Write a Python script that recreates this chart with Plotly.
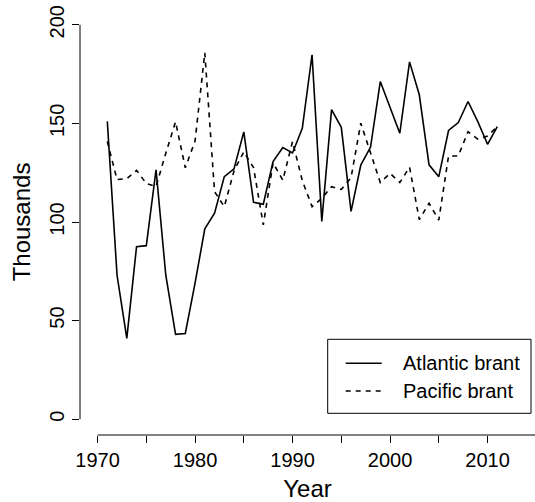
import plotly.graph_objects as go

years = list(range(1971, 2012))
atlantic = [151, 73, 41, 87.5, 88, 126.5, 73, 43, 43.5, 69, 96.5, 104.5, 123, 127, 145.7,
            110, 109, 130.6, 137.7, 135, 147.5, 184.8, 100.3, 157, 148,
            105.4, 128.9, 138, 171.2, 158, 145, 181.2, 164.5, 129, 123,
            146.4, 150.4, 161.1, 150.9, 139.4, 148.4]
pacific = [140.8, 121.5, 122, 126.2, 119.5, 118, 134.9, 150.8, 127.5, 141, 185.8, 115.4, 107.8, 126, 135.6,
           127.6, 98.5, 130, 121.2, 140.8, 121, 107.8, 112, 117.9, 116.5,
           122.5, 150.1, 135, 120, 124.7, 120, 127.8, 101.2, 109.5, 101,
           133.5, 133.5, 145.8, 142, 143.6, 148.4]
series_names = ["Atlantic brant", "Pacific brant"]
x_ticks = [1970, 1975, 1980, 1985, 1990, 1995, 2000, 2005, 2010]
x_ticktext = ["1970", "", "1980", "", "1990", "", "2000", "", "2010"]
y_ticks = [0, 50, 100, 150, 200]

W, H = 535, 502
ML, MR, MT, MB = 80, 0, 9, 67
PW = W - ML - MR
PH = H - MT - MB
FONT = "Liberation Sans, Arial, Helvetica, sans-serif"


def X(p):
    return (p - ML) / PW


def Y(p):
    return (H - MB - p) / PH


fig = go.Figure()
fig.add_trace(go.Scatter(x=years, y=atlantic, mode="lines", name=series_names[0],
                         line=dict(color="black", width=1.6)))
fig.add_trace(go.Scatter(x=years, y=pacific, mode="lines", name=series_names[1],
                         line=dict(color="black", width=1.6, dash="5px,5px")))

shapes = [
    # x axis line
    dict(type="line", xref="x", yref="paper", x0=1970, x1=2015, y0=0, y1=0,
         line=dict(color="black", width=1)),
    # y axis line
    dict(type="line", xref="paper", yref="y", x0=0, x1=0, y0=0, y1=200,
         line=dict(color="black", width=1)),
    # legend box
    dict(type="rect", xref="paper", yref="paper", x0=X(327.7), x1=X(531), y0=Y(413.3), y1=Y(339.3),
         line=dict(color="black", width=1), fillcolor="rgba(0,0,0,0)"),
    dict(type="line", xref="paper", yref="paper", x0=X(345.7), x1=X(381.7), y0=Y(363.3), y1=Y(363.3),
         line=dict(color="black", width=1.6)),
    dict(type="line", xref="paper", yref="paper", x0=X(345.7), x1=X(381.7), y0=Y(391), y1=Y(391),
         line=dict(color="black", width=1.6, dash="5px,5px")),
]

annotations = [
    dict(text=series_names[0], xref="paper", yref="paper", x=X(401), y=Y(363.3),
         xanchor="left", yanchor="middle", showarrow=False, font=dict(size=20, color="black", family=FONT)),
    dict(text=series_names[1], xref="paper", yref="paper", x=X(401), y=Y(391),
         xanchor="left", yanchor="middle", showarrow=False, font=dict(size=20, color="black", family=FONT)),
]

fig.update_layout(
    width=W, height=H,
    margin=dict(l=ML, r=MR, t=MT, b=MB, pad=0),
    paper_bgcolor="white", plot_bgcolor="white",
    showlegend=False,
    font=dict(family=FONT, size=20, color="black"),
    shapes=shapes,
    annotations=annotations,
    xaxis=dict(range=[1968.2, 1968.2 + PW / 9.75], tickvals=x_ticks, ticktext=x_ticktext,
               ticks="outside", ticklen=7, tickwidth=1, tickcolor="black",
               showline=False, showgrid=False, zeroline=False,
               title=dict(text="Year", standoff=13), automargin=False),
    yaxis=dict(range=[-8, 208], tickvals=y_ticks, tickangle=-90,
               ticks="outside", ticklen=7, tickwidth=1, tickcolor="black",
               showline=False, showgrid=False, zeroline=False,
               title=dict(text="Thousands", standoff=8), automargin=False),
)

fig.write_html("out.html", config={"displayModeBar": False},
               post_script="document.body.style.margin='0';document.body.style.overflow='hidden';")
